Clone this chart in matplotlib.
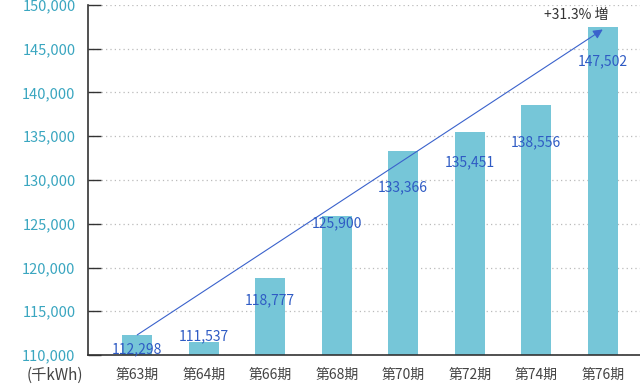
import matplotlib
matplotlib.use("Agg")
import matplotlib.pyplot as plt

plt.rcParams['font.family'] = ['Noto Sans CJK JP', 'DejaVu Sans']

periods = ['第63期', '第64期', '第66期', '第68期', '第70期', '第72期', '第74期', '第76期']
values = [112298, 111537, 118777, 125900, 133366, 135451, 138556, 147502]
label_texts = ['112,298', '111,537', '118,777', '125,900', '133,366', '135,451', '138,556', '147,502']
# where each value label sits relative to its bar top (data units)
label_dy = [-1600, 650, -2500, -800, -4150, -3400, -4200, -3900]

fig = plt.figure(figsize=(6.4, 3.85), dpi=100)
ax = fig.add_axes([88 / 640, 1 - 355 / 385, 1 - 88 / 640, 350 / 385])

x = list(range(len(periods)))
ax.bar(x, [v - 110000 for v in values], bottom=110000, width=0.45, color='#76c6d8', zorder=2)

for i, v in enumerate(values):
    ax.text(i, v + label_dy[i], label_texts[i], ha='center', va='center',
            fontsize=10, color='#2f5bc4', zorder=4)

# growth arrow from first to last period
ax.annotate('', xy=(len(values) - 1, values[-1] - 300), xytext=(0, values[0]),
            arrowprops=dict(arrowstyle='-|>', color='#3a62cc', lw=0.8,
                            mutation_scale=14, shrinkA=0, shrinkB=0), zorder=3)
ax.text(len(values) - 1.4, 148900, '+31.3% 増', ha='center', va='center',
        fontsize=10, color='#333333')

ax.set_ylim(110000, 150000)
ax.set_xlim(-0.74, 7.56)
ax.set_yticks(range(110000, 150001, 5000))
ax.set_yticklabels([f'{t:,}' for t in range(110000, 150001, 5000)])
ax.set_xticks(x)
ax.set_xticklabels(periods)

ax.yaxis.grid(True, linestyle=(0, (1, 2.5)), color='#bbbbbb', linewidth=0.9, zorder=0)
ax.set_axisbelow(True)
ax.tick_params(axis='y', direction='in', length=9, width=1, color='#333333',
               labelcolor='#3aa6c0', labelsize=10.5, pad=9)
ax.tick_params(axis='x', length=0, labelcolor='#444444', labelsize=10, pad=9)

for s in ['top', 'right']:
    ax.spines[s].set_visible(False)
ax.spines['left'].set_color('#333333')
ax.spines['bottom'].set_color('#333333')
ax.spines['left'].set_linewidth(1.2)
ax.spines['bottom'].set_linewidth(1.2)

fig.text(55 / 640, 1 - 375 / 385, '(千kWh)', ha='center', va='center',
         fontsize=11, color='#444444')

fig.savefig('out.png', dpi=100)
